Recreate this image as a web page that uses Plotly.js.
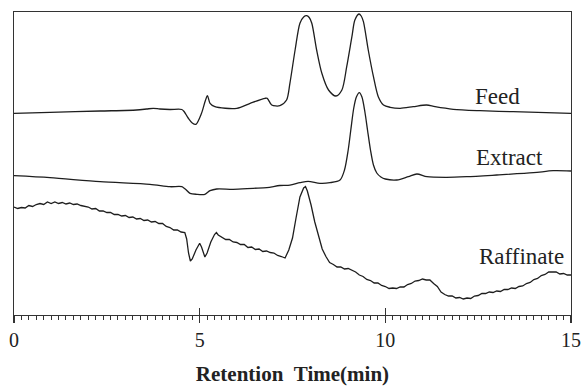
<!DOCTYPE html>
<html>
<head>
<meta charset="utf-8">
<script src="https://cdn.plot.ly/plotly-3.0.1.min.js"></script>
<style>html,body{margin:0;padding:0;background:#fff;}#chart{width:583px;height:386px;}</style>
</head>
<body>
<div id="chart"></div>
<script>
// Retention time (min) and detector response (arbitrary units, offset per trace)
var feedTime = [0, 0.97, 2.32, 3.30, 3.57, 3.75, 3.93, 4.20, 4.52, 4.58, 4.69, 4.80, 4.90, 5.05, 5.15, 5.21, 5.28, 5.41, 6.00, 6.36, 6.76, 6.82, 6.94, 7.16, 7.34, 7.43, 7.57, 7.70, 7.80, 7.88, 7.95, 8.02, 8.15, 8.29, 8.47, 8.67, 8.83, 8.96, 9.10, 9.18, 9.29, 9.35, 9.41, 9.54, 9.68, 9.81, 9.95, 10.13, 10.40, 10.75, 11.11, 11.34, 11.83, 12.55, 13.44, 15.0];
var feedSignal = [201.7, 202.7, 204, 205, 206, 206.7, 206, 205.5, 205.5, 203.5, 197, 192, 190.7, 201.7, 214, 219.3, 211.7, 208.3, 206.7, 211.7, 216.7, 216.7, 210, 209.3, 215, 231.7, 265, 291.7, 298, 299.3, 297.5, 291.7, 265, 241.7, 225, 219, 225, 248.3, 278.3, 295, 301, 299, 293.3, 265, 238.3, 218.3, 210, 207.7, 206.7, 208.3, 210, 208.3, 205.7, 204.3, 203.3, 201.7];

var extractTime = [0, 0.97, 2.32, 3.66, 4.20, 4.52, 4.61, 4.74, 4.92, 5.14, 5.28, 5.46, 5.90, 6.44, 6.81, 7.16, 7.43, 7.70, 7.92, 8.24, 8.51, 8.78, 8.90, 9.00, 9.07, 9.15, 9.22, 9.30, 9.37, 9.45, 9.52, 9.60, 9.68, 9.77, 9.88, 10.00, 10.31, 10.62, 10.85, 11.12, 11.65, 12.19, 13.00, 13.99, 14.52, 15.0];
var extractSignal = [139.3, 137.3, 133.3, 130.7, 128.3, 128.3, 126, 121.7, 120.7, 120.7, 124.3, 126, 125.7, 126.7, 127.3, 129.5, 129.8, 132.3, 133.7, 131.7, 132.3, 135, 145, 165, 185, 207, 218, 222.3, 218, 203, 185, 165, 150, 142, 138, 136, 135, 138.3, 141, 138.3, 137.7, 138.3, 140, 142.3, 144.3, 144];

var raffinateTime = [0.0, 0.1, 0.2, 0.3, 0.4, 0.5, 0.6, 0.7, 0.8, 0.9, 1.0, 1.1, 1.2, 1.3, 1.4, 1.5, 1.6, 1.7, 1.8, 1.9, 2.0, 2.1, 2.2, 2.3, 2.4, 2.5, 2.6, 2.7, 2.8, 2.9, 3.0, 3.1, 3.2, 3.3, 3.4, 3.5, 3.6, 3.7, 3.8, 3.9, 4.0, 4.1, 4.2, 4.3, 4.4, 4.5, 4.6, 4.65, 4.7, 4.75, 4.8, 4.9, 5.0, 5.05, 5.14, 5.2, 5.3, 5.4, 5.45, 5.5, 5.6, 5.7, 5.8, 5.9, 6.0, 6.1, 6.2, 6.3, 6.4, 6.5, 6.6, 6.7, 6.8, 6.9, 7.0, 7.1, 7.2, 7.3, 7.4, 7.5, 7.6, 7.7, 7.8, 7.85, 7.9, 8.0, 8.1, 8.2, 8.3, 8.4, 8.5, 8.6, 8.7, 8.8, 8.9, 9.0, 9.1, 9.2, 9.3, 9.4, 9.5, 9.6, 9.7, 9.8, 9.9, 10.0, 10.1, 10.2, 10.3, 10.4, 10.5, 10.6, 10.7, 10.8, 10.9, 11.0, 11.1, 11.2, 11.3, 11.4, 11.5, 11.6, 11.7, 11.8, 11.9, 12.0, 12.1, 12.2, 12.3, 12.4, 12.5, 12.6, 12.7, 12.8, 12.9, 13.0, 13.1, 13.2, 13.3, 13.4, 13.5, 13.6, 13.7, 13.8, 13.9, 14.0, 14.1, 14.2, 14.3, 14.4, 14.5, 14.6, 14.7, 14.8, 14.9, 15.0];
var raffinateSignal = [108, 106.5, 107.5, 107, 109.5, 108.5, 110.5, 111.5, 110.5, 113, 111.5, 113, 111.5, 112.5, 111, 112, 110.5, 111, 109.5, 108.5, 108, 106, 106.5, 104, 104, 102.5, 102.5, 100.5, 100.5, 99, 99.5, 97.5, 98, 96, 96.5, 94.5, 95, 93, 93.5, 91.5, 91.5, 88.5, 87.5, 85, 85, 83, 82.5, 76, 62, 54, 56, 65, 71.7, 68, 58, 62, 73, 80.5, 82.5, 80, 77.5, 75.5, 75.5, 73, 72.5, 70.5, 70.5, 67.5, 68, 65.5, 66, 63.5, 64, 62.5, 62, 59.5, 58.5, 57, 65, 77, 98, 118, 127, 128.5, 124, 110, 93, 78, 66, 58.5, 52.5, 50.5, 48, 48, 46, 46.5, 44.5, 43, 40, 38.5, 35.5, 34.5, 32, 32, 29.5, 28.5, 26.5, 27, 26.5, 28, 28, 30.5, 31.5, 34, 34.5, 36, 35, 35, 31.5, 28.5, 23, 20.5, 19, 19, 17, 17.5, 16, 17, 16.5, 19, 19.5, 21.5, 21.5, 23, 22.5, 24, 23.5, 25.5, 25.5, 27, 26.5, 28.5, 29, 31.5, 32.5, 35.5, 36.5, 39.5, 40.5, 43, 43, 43, 41, 41.5, 40, 40];

var traceLabels = ["Feed", "Extract", "Raffinate"];
var labelTime = [12.36, 12.39, 12.47];
var labelSignal = [219, 158, 59];
var tickValues = [0, 5, 10, 15];
var tickLabels = ["0", "5", "10", "15"];
var xTitle = "Retention&nbsp;&nbsp;Time(min)";

var lineStyle = {color: "#1e1e1e", width: 1.3};
var data = [
  {x: feedTime, y: feedSignal, type: "scatter", mode: "lines", line: Object.assign({shape: "spline", smoothing: 0.8}, lineStyle), hoverinfo: "skip"},
  {x: extractTime, y: extractSignal, type: "scatter", mode: "lines", line: Object.assign({shape: "spline", smoothing: 0.8}, lineStyle), hoverinfo: "skip"},
  {x: raffinateTime, y: raffinateSignal, type: "scatter", mode: "lines", line: Object.assign({shape: "linear"}, lineStyle), hoverinfo: "skip"},
  {x: [0, 15], y: [null, null], xaxis: "x2", type: "scatter", mode: "lines", hoverinfo: "skip", showlegend: false}
];

var serif = "Liberation Serif";
var annotations = traceLabels.map(function (t, i) {
  return {x: labelTime[i], y: labelSignal[i], xref: "x", yref: "y", text: t, showarrow: false,
          xanchor: "left", yanchor: "middle", font: {family: serif, size: 23, color: "#222"}};
});

var layout = {
  width: 583, height: 386,
  margin: {l: 14, r: 12, t: 12, b: 71},
  paper_bgcolor: "#fff", plot_bgcolor: "#fff",
  showlegend: false,
  font: {family: serif, color: "#222"},
  xaxis: {
    range: [0, 15], tickmode: "array", tickvals: tickValues, ticktext: tickLabels,
    ticks: "outside", ticklen: 7, tickwidth: 1.2, tickcolor: "#333",
    minor: {dtick: 0.2, ticks: "outside", ticklen: 4, tickwidth: 1, tickcolor: "#333", showgrid: false},
    showline: true, linecolor: "#333", linewidth: 1.3, mirror: true,
    showgrid: false, zeroline: false,
    tickfont: {family: serif, size: 20, color: "#222"},
    title: {text: xTitle, font: {family: serif, size: 21, color: "#222", weight: "bold"}, standoff: 16}
  },
  xaxis2: {
    overlaying: "x", matches: "x", range: [0, 15], tickmode: "array", tickvals: [5, 10],
    ticks: "inside", ticklen: 7, tickwidth: 1.2, tickcolor: "#333",
    showticklabels: false, showline: false, showgrid: false, zeroline: false, side: "bottom"
  },
  yaxis: {
    range: [0, 303], showticklabels: false, ticks: "", showgrid: false, zeroline: false,
    showline: true, linecolor: "#333", linewidth: 1.3, mirror: true
  },
  annotations: annotations
};

Plotly.newPlot("chart", data, layout, {staticPlot: true, displayModeBar: false});
</script>
</body>
</html>
